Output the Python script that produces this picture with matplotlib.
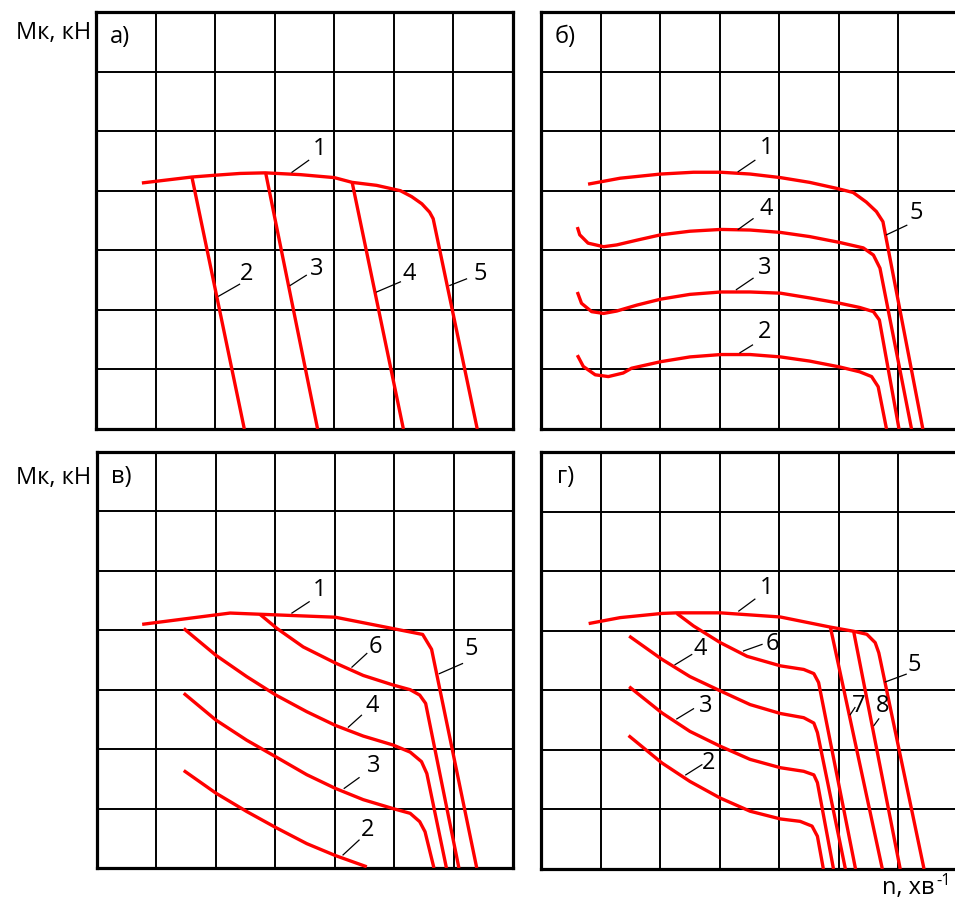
import matplotlib.pyplot as plt

plt.rcParams['font.family'] = ['Open Sans', 'DejaVu Sans']

RED = '#ff0000'

# панель а) -- зовнішня характеристика (1, 5) та регуляторні гілки 2-4
A1_X = [0.77, 1.19, 1.61, 2.0, 2.42, 2.84, 3.43, 4.0, 4.30, 4.71, 5.11, 5.30, 5.47, 5.60, 5.66, 6.40]
A1_Y = [4.13, 4.18, 4.23, 4.26, 4.29, 4.30, 4.27, 4.22, 4.14, 4.09, 4.00, 3.90, 3.78, 3.64, 3.53, 0.0]
A2_X = [1.61, 2.49]
A2_Y = [4.23, 0.0]
A3_X = [2.85, 3.72]
A3_Y = [4.29, 0.0]
A4_X = [4.30, 5.16]
A4_Y = [4.14, 0.0]

# панель б)
B1_X = [0.79, 1.33, 2.01, 2.56, 3.02, 3.51, 4.02, 4.51, 4.96, 5.24, 5.46, 5.63, 5.74, 6.41]
B1_Y = [4.11, 4.21, 4.28, 4.31, 4.31, 4.28, 4.22, 4.14, 4.04, 3.97, 3.81, 3.65, 3.48, 0.0]
B4_X = [0.61, 0.65, 0.79, 1.05, 1.27, 1.61, 2.01, 2.5, 3.02, 3.51, 4.02, 4.51, 5.02, 5.41,
        5.58, 5.69, 6.22]
B4_Y = [3.39, 3.26, 3.12, 3.06, 3.09, 3.17, 3.26, 3.32, 3.35, 3.34, 3.30, 3.23, 3.13, 3.04,
        2.92, 2.70, 0.0]
B3_X = [0.61, 0.68, 0.85, 1.05, 1.27, 1.61, 2.01, 2.5, 3.02, 3.51, 4.02, 4.51, 5.02, 5.35,
        5.58, 5.68, 6.01]
B3_Y = [2.30, 2.11, 1.97, 1.94, 1.98, 2.08, 2.18, 2.26, 2.30, 2.30, 2.28, 2.20, 2.11, 2.04,
        1.97, 1.83, 0.0]
B2_X = [0.61, 0.71, 0.91, 1.13, 1.38, 1.52, 2.01, 2.5, 3.02, 3.51, 4.02, 4.51, 5.02, 5.35,
        5.55, 5.66, 5.80]
B2_Y = [1.24, 1.05, 0.91, 0.88, 0.94, 1.02, 1.13, 1.21, 1.25, 1.25, 1.21, 1.14, 1.04, 0.96,
        0.88, 0.71, 0.0]

# панель в)
C1_X = [0.76, 2.24, 2.74, 4.01, 5.48, 5.63, 6.39]
C1_Y = [4.10, 4.29, 4.27, 4.22, 3.93, 3.68, 0.0]
C6_X = [2.74, 3.03, 3.47, 4.01, 4.48, 4.98, 5.27, 5.43, 5.53, 6.09]
C6_Y = [4.27, 4.03, 3.72, 3.45, 3.24, 3.08, 3.00, 2.91, 2.77, 0.0]
C4_X = [1.46, 2.0, 2.52, 3.01, 3.53, 4.01, 4.48, 4.98, 5.27, 5.46, 5.55, 5.88]
C4_Y = [4.03, 3.58, 3.22, 2.91, 2.63, 2.40, 2.22, 2.07, 1.95, 1.79, 1.59, 0.0]
C3_X = [1.46, 2.0, 2.52, 3.01, 3.53, 4.01, 4.48, 4.98, 5.27, 5.43, 5.52, 5.67]
C3_Y = [2.94, 2.49, 2.15, 1.87, 1.57, 1.34, 1.15, 1.00, 0.92, 0.78, 0.61, 0.0]
C2_X = [1.46, 2.0, 2.52, 3.01, 3.53, 4.01, 4.54]
C2_Y = [1.64, 1.26, 0.95, 0.68, 0.41, 0.21, 0.02]

# панель г)
D1_X = [0.80, 1.33, 2.03, 2.28, 3.01, 4.02, 4.86, 5.25, 5.47, 5.61, 5.67, 5.70, 6.43]
D1_Y = [4.12, 4.22, 4.29, 4.30, 4.30, 4.23, 4.06, 3.99, 3.94, 3.80, 3.63, 3.49, 0.0]
D7_X = [4.86, 5.73]
D7_Y = [4.05, 0.0]
D8_X = [5.25, 6.03]
D8_Y = [3.98, 0.0]
D6_X = [2.28, 2.56, 3.01, 3.46, 4.02, 4.41, 4.58, 4.66, 5.28]
D6_Y = [4.29, 4.08, 3.80, 3.57, 3.41, 3.35, 3.28, 3.13, 0.0]
D4_X = [1.48, 2.03, 2.5, 3.01, 3.51, 4.02, 4.41, 4.58, 4.64, 5.11]
D4_Y = [3.91, 3.52, 3.23, 2.99, 2.76, 2.61, 2.54, 2.45, 2.29, 0.0]
D3_X = [1.48, 2.03, 2.5, 3.01, 3.51, 4.02, 4.41, 4.58, 4.64, 4.91]
D3_Y = [3.06, 2.62, 2.31, 2.06, 1.84, 1.70, 1.64, 1.58, 1.45, 0.0]
D2_X = [1.47, 2.03, 2.5, 3.01, 3.51, 4.02, 4.35, 4.55, 4.64, 4.74]
D2_Y = [2.24, 1.78, 1.47, 1.19, 0.97, 0.84, 0.80, 0.72, 0.55, 0.0]

# номери кривих: (текст, x, y, початок виноски, кінець виноски)
A_LABELS = [('1', 3.76, 4.70, (3.29, 4.31), (3.57, 4.51)),
            ('2', 2.52, 2.61, (2.06, 2.23), (2.41, 2.43)),
            ('3', 3.71, 2.68, (3.26, 2.41), (3.53, 2.58)),
            ('4', 5.26, 2.61, (4.71, 2.30), (5.11, 2.47)),
            ('5', 6.45, 2.61, (5.94, 2.41), (6.22, 2.52))]
B_LABELS = [('1', 3.79, 4.71, (3.31, 4.32), (3.59, 4.51)),
            ('4', 3.78, 3.70, (3.31, 3.35), (3.56, 3.53)),
            ('3', 3.76, 2.70, (3.28, 2.34), (3.56, 2.53)),
            ('2', 3.76, 1.63, (3.34, 1.28), (3.55, 1.41)),
            ('5', 6.30, 3.62, (5.80, 3.26), (6.14, 3.42))]
C_LABELS = [('1', 3.75, 4.68, (3.28, 4.29), (3.57, 4.48)),
            ('6', 4.69, 3.72, (4.29, 3.38), (4.54, 3.61)),
            ('5', 6.29, 3.68, (5.76, 3.27), (6.15, 3.44)),
            ('4', 4.64, 2.72, (4.23, 2.37), (4.45, 2.57)),
            ('3', 4.66, 1.71, (4.16, 1.34), (4.41, 1.52)),
            ('2', 4.56, 0.64, (4.14, 0.22), (4.41, 0.47))]
D_LABELS = [('1', 3.78, 4.71, (3.32, 4.33), (3.59, 4.53)),
            ('6', 3.88, 3.77, (3.40, 3.66), (3.71, 3.77)),
            ('4', 2.67, 3.69, (2.25, 3.43), (2.53, 3.60)),
            ('3', 2.77, 2.74, (2.28, 2.52), (2.56, 2.69)),
            ('2', 2.81, 1.78, (2.43, 1.58), (2.70, 1.75)),
            ('5', 6.26, 3.42, (5.78, 3.14), (6.13, 3.27)),
            ('7', 5.33, 2.73, (5.19, 2.59), (5.27, 2.71)),
            ('8', 5.73, 2.73, (5.59, 2.41), (5.67, 2.52))]

W, H = 955, 901
fig = plt.figure(figsize=(W / 100, H / 100), dpi=100)


def make_axes(left, bottom, size):
    ax = fig.add_axes([left / W, (H - bottom) / H, size / W, size / H])
    ax.set_xlim(0, 7)
    ax.set_ylim(0, 7)
    ax.set_xticks(range(8))
    ax.set_yticks(range(8))
    ax.tick_params(length=0, labelbottom=False, labelleft=False)
    ax.grid(True, color='black', linewidth=1.4)
    for s in ax.spines.values():
        s.set_linewidth(2.3)
    return ax


def draw(ax, curves, labels, tag):
    for xs, ys in curves:
        ax.plot(xs, ys, color=RED, linewidth=2.4, solid_joinstyle='round',
                solid_capstyle='butt', zorder=3)
    for txt, x, y, p0, p1 in labels:
        ax.plot([p0[0], p1[0]], [p0[1], p1[1]], color='black', linewidth=0.9, zorder=4)
        ax.text(x, y, txt, ha='center', va='center', fontsize=17, zorder=5)
    ax.text(0.41, 6.58, tag, ha='center', va='center', fontsize=17)


ax_a = make_axes(96, 429, 417)
draw(ax_a, [(A1_X, A1_Y), (A2_X, A2_Y), (A3_X, A3_Y), (A4_X, A4_Y)], A_LABELS, 'а)')

ax_b = make_axes(541, 429, 417)
draw(ax_b, [(B1_X, B1_Y), (B4_X, B4_Y), (B3_X, B3_Y), (B2_X, B2_Y)], B_LABELS, 'б)')

ax_c = make_axes(97, 868, 416)
draw(ax_c, [(C1_X, C1_Y), (C6_X, C6_Y), (C4_X, C4_Y), (C3_X, C3_Y), (C2_X, C2_Y)],
     C_LABELS, 'в)')

ax_d = make_axes(541, 869, 417)
draw(ax_d, [(D1_X, D1_Y), (D7_X, D7_Y), (D8_X, D8_Y), (D6_X, D6_Y), (D4_X, D4_Y),
            (D3_X, D3_Y), (D2_X, D2_Y)], D_LABELS, 'г)')

fig.text(91 / W, 1 - 33 / H, 'Мк, кН', ha='right', va='center', fontsize=17)
fig.text(91 / W, 1 - 478 / H, 'Мк, кН', ha='right', va='center', fontsize=17)
# підпис осі n з показником степеня
fig.text(934 / W, 7 / H, 'n, хв', ha='right', va='baseline', fontsize=17)
fig.text(951 / W, 16 / H, '-1', ha='right', va='baseline', fontsize=12)

fig.savefig('out.png', dpi=100)
